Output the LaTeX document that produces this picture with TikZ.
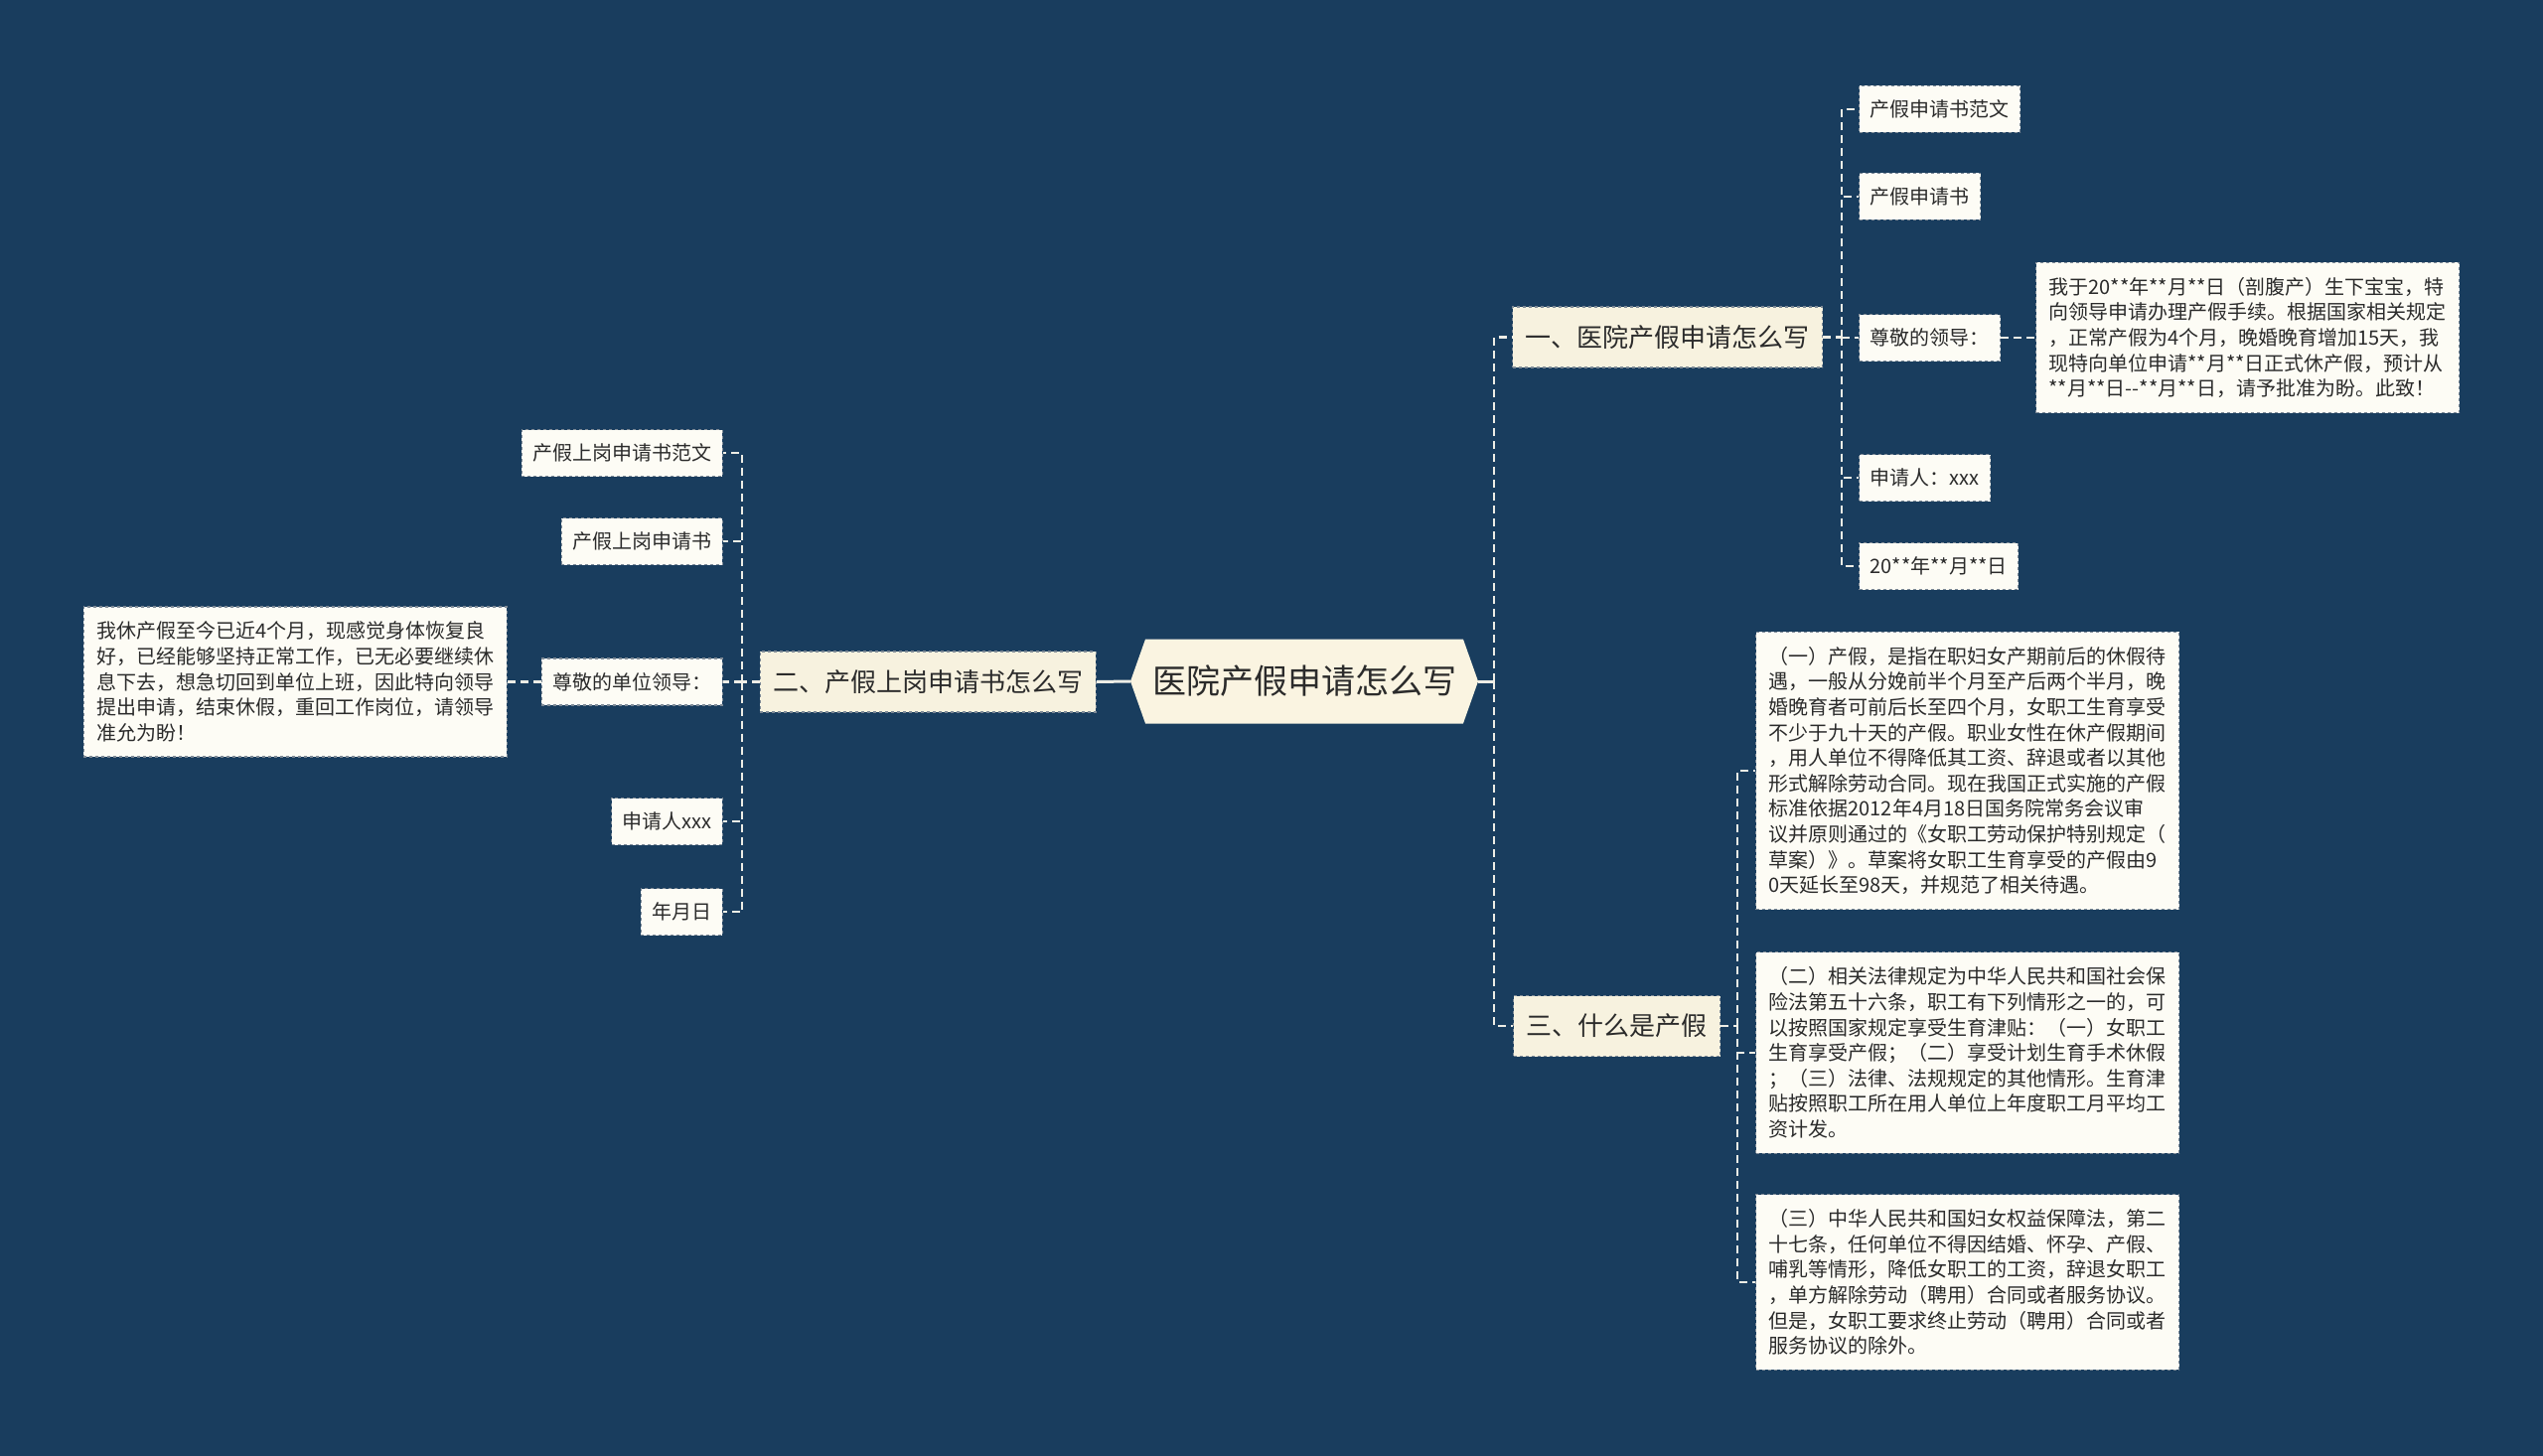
\documentclass[tikz,border=0pt]{standalone}
\usepackage{fontspec}
\setmainfont{Noto Sans CJK SC}
\usepackage{tikz}
\usetikzlibrary{shapes.symbols,positioning}
% Colours ----------------------------------------------------
\definecolor{bgblue}{HTML}{193D5E}
\definecolor{rootfill}{HTML}{FAF4E1}
\definecolor{topicfill}{HTML}{F7F2DF}
\definecolor{leaffill}{HTML}{FDFCF5}
\definecolor{edgegray}{HTML}{7E8A96}
\definecolor{linkwhite}{HTML}{EDEDE6}
\definecolor{inkgray}{HTML}{2B2B2B}
% Node and link styles ---------------------------------------
\tikzstyle{rootnode} = [signal, signal to=east and west, signal pointer angle=141, fill=rootfill, text=inkgray, minimum width=350pt, minimum height=85pt, inner sep=0pt, font=\fontsize{34}{40}\selectfont]
\tikzstyle{topic} = [rectangle, fill=topicfill, draw=edgegray, dashed, line width=1.2pt, text=inkgray, inner xsep=13pt, minimum height=61pt, font=\fontsize{26}{31}\selectfont]
\tikzstyle{leaf} = [rectangle, fill=leaffill, draw=edgegray, dashed, line width=1.2pt, text=inkgray, inner xsep=11pt, minimum height=47pt, font=\fontsize{20}{25.6}\selectfont]
\tikzstyle{para} = [leaf, text width=400pt, align=left, inner xsep=13pt, inner ysep=15pt]
\tikzstyle{branch} = [draw=linkwhite, line width=2.5pt, dash pattern=on 8pt off 5pt]
\tikzstyle{rootlink} = [draw=linkwhite, line width=3pt]

\begin{document}
\begin{tikzpicture}[x=1pt,y=-1pt]
				\useasboundingbox (0,0) rectangle (2560,1466);
				\fill[bgblue] (0,0) rectangle (2560,1466);
				\node[rootnode] (root) at (1313,686) {医院产假申请怎么写};
				% right side
				\node[topic, anchor=west] (howto) at (1522,339.5) {一、医院产假申请怎么写};
				\node[topic, anchor=west] (what) at (1523,1033) {三、什么是产假};
				\coordinate (trunkR) at (1504,686);
				\draw[rootlink] (root.east) -- (trunkR);
				\draw[branch] (trunkR) |- (howto.west);
				\draw[branch] (trunkR) |- (what.west);
				\node[leaf, anchor=west] (sample) at (1871,110) {产假申请书范文};
				\node[leaf, anchor=west] (form) at (1871,198) {产假申请书};
				\node[leaf, anchor=west] (dear) at (1871,340) {尊敬的领导：};
				\node[leaf, anchor=west] (applicant) at (1871,481) {申请人：xxx};
				\node[leaf, anchor=west] (date) at (1871,570) {20**年**月**日};
				\node[para, anchor=west] (letter) at (2049,340) {我于20**年**月**日（剖腹产）生下宝宝，特\\向领导申请办理产假手续。根据国家相关规定\\，正常产假为4个月，晚婚晚育增加15天，我\\现特向单位申请**月**日正式休产假，预计从\\{}**月**日-{}-**月**日，请予批准为盼。此致！};
				\coordinate (trunkA) at (1854,339.5);
				\draw[branch] (howto.east) -- (trunkA);
				\foreach \n in {sample,form,dear,applicant,date}
					\draw[branch] (trunkA) |- (\n.west);
				\draw[branch] (dear.east) -- (letter.west);
				\node[para, anchor=west] (lawA) at (1767,776) {（一）产假，是指在职妇女产期前后的休假待\\遇，一般从分娩前半个月至产后两个半月，晚\\婚晚育者可前后长至四个月，女职工生育享受\\不少于九十天的产假。职业女性在休产假期间\\，用人单位不得降低其工资、辞退或者以其他\\形式解除劳动合同。现在我国正式实施的产假\\标准依据2012年4月18日国务院常务会议审\\议并原则通过的《女职工劳动保护特别规定（\\草案）》。草案将女职工生育享受的产假由9\\0天延长至98天，并规范了相关待遇。};
				\node[para, anchor=west] (lawB) at (1767,1060) {（二）相关法律规定为中华人民共和国社会保\\险法第五十六条，职工有下列情形之一的，可\\以按照国家规定享受生育津贴：（一）女职工\\生育享受产假；（二）享受计划生育手术休假\\；（三）法律、法规规定的其他情形。生育津\\贴按照职工所在用人单位上年度职工月平均工\\资计发。};
				\node[para, anchor=west] (lawC) at (1767,1291) {（三）中华人民共和国妇女权益保障法，第二\\十七条，任何单位不得因结婚、怀孕、产假、\\哺乳等情形，降低女职工的工资，辞退女职工\\，单方解除劳动（聘用）合同或者服务协议。\\但是，女职工要求终止劳动（聘用）合同或者\\服务协议的除外。};
				\coordinate (trunkC) at (1749,1033);
				\draw[branch] (what.east) -- (trunkC);
				\foreach \n in {lawA,lawB,lawC}
					\draw[branch] (trunkC) |- (\n.west);
				% left side
				\node[topic, anchor=east] (backtowork) at (1104,686.5) {二、产假上岗申请书怎么写};
				\draw[rootlink] (root.west) -- (backtowork.east);
				\node[leaf, anchor=east] (bsample) at (728,456) {产假上岗申请书范文};
				\node[leaf, anchor=east] (bform) at (728,545) {产假上岗申请书};
				\node[leaf, anchor=east] (bdear) at (728,686.5) {尊敬的单位领导：};
				\node[leaf, anchor=east] (bapplicant) at (728,827) {申请人xxx};
				\node[leaf, anchor=east] (bdate) at (728,918) {年月日};
				\node[para, anchor=east] (bletter) at (511,686.5) {我休产假至今已近4个月，现感觉身体恢复良\\好，已经能够坚持正常工作，已无必要继续休\\息下去，想急切回到单位上班，因此特向领导\\提出申请，结束休假，重回工作岗位，请领导\\准允为盼！};
				\coordinate (trunkL) at (747,686.5);
				\draw[branch] (backtowork.west) -- (trunkL);
				\foreach \n in {bsample,bform,bdear,bapplicant,bdate}
					\draw[branch] (trunkL) |- (\n.east);
				\draw[branch] (bdear.west) -- (bletter.east);
\end{tikzpicture}
\end{document}
